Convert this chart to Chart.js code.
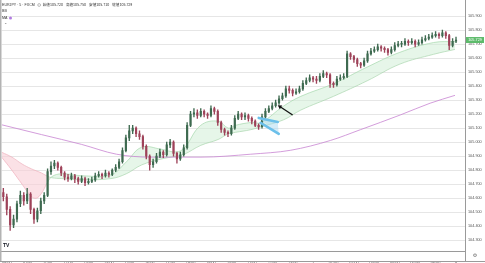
<!DOCTYPE html>
<html>
<head>
<meta charset="utf-8">
<script src="https://cdn.jsdelivr.net/npm/chart.js@4.4.1/dist/chart.umd.min.js"></script>
<style>
  html, body { margin: 0; padding: 0; background: #fff; }
  #wrap { width: 485px; height: 263px; }
</style>
</head>
<body>
<div id="wrap"><canvas id="myChart"></canvas></div>
<script>
const grafico = document.getElementById('myChart')

// time axis: hours after 09:00 of the first day
const hourLabels = ['09:00','10:00','11:00','12:00','13:00','14:00','15:00','16:00','17:00','18:00','19:00',
  '20:00','21:00','22:00','23:00','7','01:00','02:00','03:00','04:00','05:00','06:00','8'];
const priceTicks = [104.3,104.4,104.5,104.6,104.7,104.8,104.9,105.0,105.1,105.2,105.3,105.4,105.5,105.6,105.7,105.8,105.9];

// 10 minute candles, first one at 08:50
const opens = [104.64,104.61,104.52,104.41,104.45,104.56,104.62,104.58,104.63,104.52,
104.45,104.51,104.58,104.62,104.79,104.83,104.85,104.82,104.78,104.75,
104.74,104.76,104.74,104.72,104.74,104.71,104.72,104.73,104.76,104.77,
104.76,104.78,104.77,104.80,104.82,104.86,104.94,105.03,105.08,105.10,
105.06,105.04,104.97,104.90,104.84,104.86,104.90,104.93,104.91,104.98,
105.00,104.92,104.88,104.91,104.96,105.12,105.20,105.21,105.19,105.22,
105.20,105.19,105.24,105.22,105.14,105.09,105.07,105.06,105.10,105.17,
105.20,105.18,105.19,105.17,105.15,105.12,105.11,105.18,105.22,105.24,
105.26,105.28,105.31,105.33,105.38,105.37,105.35,105.36,105.38,105.42,
105.44,105.46,105.45,105.44,105.47,105.49,105.48,105.42,105.41,105.45,
105.46,105.47,105.63,105.61,105.59,105.56,105.55,105.58,105.63,105.65,
105.66,105.68,105.67,105.66,105.64,105.66,105.69,105.70,105.70,105.72,
105.71,105.72,105.70,105.71,105.73,105.74,105.75,105.76,105.77,105.76,
105.78,105.76,105.69,105.72];
const closes = [104.61,104.52,104.41,104.45,104.56,104.62,104.58,104.63,104.52,104.45,
104.51,104.58,104.62,104.79,104.83,104.85,104.82,104.78,104.75,104.74,
104.76,104.74,104.72,104.74,104.71,104.72,104.73,104.76,104.77,104.76,
104.78,104.77,104.80,104.82,104.86,104.94,105.03,105.08,105.10,105.06,
105.04,104.97,104.90,104.84,104.86,104.90,104.93,104.91,104.98,105.00,
104.92,104.88,104.91,104.96,105.12,105.20,105.21,105.19,105.22,105.20,
105.19,105.24,105.22,105.14,105.09,105.07,105.06,105.10,105.17,105.20,
105.18,105.19,105.17,105.15,105.12,105.11,105.18,105.22,105.24,105.26,
105.28,105.31,105.33,105.38,105.37,105.35,105.36,105.38,105.42,105.44,
105.46,105.45,105.44,105.47,105.49,105.48,105.42,105.41,105.45,105.46,
105.47,105.63,105.61,105.59,105.56,105.55,105.58,105.63,105.65,105.66,
105.68,105.67,105.66,105.64,105.66,105.69,105.70,105.70,105.72,105.71,
105.72,105.70,105.71,105.73,105.74,105.75,105.76,105.77,105.76,105.78,
105.76,105.69,105.72,105.729];
const highs = [104.67,104.63,104.54,104.48,104.58,104.65,104.64,104.67,104.64,104.53,
104.53,104.60,104.64,104.81,104.86,104.87,104.86,104.83,104.79,104.77,
104.78,104.77,104.75,104.76,104.75,104.74,104.75,104.78,104.79,104.78,
104.80,104.79,104.81,104.84,104.88,104.96,105.05,105.12,105.12,105.11,
105.08,105.05,104.98,104.91,104.88,104.92,104.95,104.94,105.00,105.02,
105.01,104.93,104.93,104.98,105.14,105.22,105.24,105.23,105.24,105.23,
105.21,105.26,105.25,105.23,105.15,105.10,105.08,105.12,105.19,105.22,
105.21,105.21,105.20,105.18,105.16,105.13,105.20,105.24,105.26,105.28,
105.30,105.33,105.35,105.40,105.40,105.38,105.38,105.40,105.44,105.46,
105.48,105.47,105.47,105.49,105.51,105.50,105.49,105.43,105.47,105.48,
105.49,105.65,105.64,105.62,105.60,105.57,105.60,105.65,105.67,105.68,
105.70,105.69,105.68,105.67,105.68,105.71,105.72,105.72,105.74,105.73,
105.74,105.73,105.73,105.75,105.76,105.77,105.78,105.79,105.78,105.80,
105.79,105.77,105.74,105.75];
const lows = [104.58,104.48,104.37,104.39,104.43,104.54,104.55,104.56,104.49,104.42,
104.43,104.49,104.56,104.61,104.77,104.81,104.80,104.76,104.73,104.72,
104.73,104.71,104.70,104.71,104.69,104.70,104.71,104.72,104.75,104.74,
104.75,104.75,104.76,104.79,104.81,104.85,104.93,105.01,105.06,105.04,
105.02,104.95,104.88,104.80,104.82,104.85,104.89,104.89,104.90,104.96,
104.90,104.85,104.87,104.90,104.95,105.11,105.18,105.17,105.18,105.18,
105.17,105.18,105.20,105.12,105.07,105.05,105.04,105.05,105.09,105.16,
105.16,105.16,105.15,105.13,105.11,105.09,105.10,105.17,105.21,105.23,
105.25,105.27,105.30,105.32,105.35,105.33,105.34,105.35,105.37,105.41,
105.43,105.43,105.42,105.43,105.46,105.46,105.39,105.39,105.40,105.44,
105.45,105.46,105.59,105.57,105.54,105.53,105.54,105.57,105.62,105.64,
105.65,105.65,105.64,105.62,105.63,105.65,105.68,105.68,105.69,105.69,
105.70,105.68,105.69,105.70,105.72,105.73,105.74,105.75,105.74,105.75,
105.74,105.66,105.68,105.71];

// moving average ribbon
const maHours = [-0.25,0.25,0.75,1.2,1.45,1.7,1.95,2.2,2.7,3.7,5.1,5.85,6.6,7.55,8.3,8.7,9.5,10.35,10.85,11.2,11.95,12.45,13.55,14.4,16.0,17.65,19.25,20.9,21.95];
const maFast = [104.893,104.80,104.70,104.613,104.60,104.634,104.70,104.753,104.774,104.76,104.767,104.858,104.963,104.95,104.93,104.96,105.12,105.15,105.10,105.12,105.14,105.14,105.257,105.327,105.417,105.536,105.641,105.711,105.718];
const maSlow = [104.928,104.893,104.844,104.81,104.795,104.78,104.76,104.746,104.74,104.732,104.74,104.774,104.837,104.879,104.90,104.914,104.977,105.019,105.06,105.07,105.089,105.11,105.159,105.229,105.327,105.438,105.557,105.627,105.662];

// long moving average (purple)
const longHours = [-0.25,1.7,3.66,5.37,7.07,9.51,11.95,13.9,15.85,17.32,19.27,20.73,21.95];
const longMa = [105.124,105.054,104.984,104.914,104.893,104.893,104.914,104.942,105.012,105.089,105.194,105.278,105.334];

// hand drawn arrows (hour, price)
const blackArrow = { from: [14.0, 105.194], to: [13.27, 105.264] };
const blueArrowTip = [12.34, 105.173];

const upColor = '#3e6a50';
const downColor = '#9e4259';
const greenLine = '#a6d8ae';
const pinkLine = '#f0b0bd';

let candleHours = [];
for (let i = 0; i < closes.length; i++) candleHours.push(-1 / 6 + i / 6);

const candleColor = ctx => closes[ctx.dataIndex] >= opens[ctx.dataIndex] ? upColor : downColor;

const tinyFont = { family: '"Liberation Sans", Arial, sans-serif', size: 3.8 };

const overlay = {
    id: 'overlay',
    afterDatasetsDraw(chart) {
        const ctx = chart.ctx;
        const xs = chart.scales.x, ys = chart.scales.y;
        ctx.save();
        // black arrow
        const x1 = xs.getPixelForValue(blackArrow.from[0]), y1 = ys.getPixelForValue(blackArrow.from[1]);
        const x2 = xs.getPixelForValue(blackArrow.to[0]), y2 = ys.getPixelForValue(blackArrow.to[1]);
        const a = Math.atan2(y2 - y1, x2 - x1);
        ctx.strokeStyle = '#111';
        ctx.fillStyle = '#111';
        ctx.lineWidth = 1.3;
        ctx.beginPath();
        ctx.moveTo(x1, y1);
        ctx.lineTo(x2 - 2 * Math.cos(a), y2 - 2 * Math.sin(a));
        ctx.stroke();
        ctx.beginPath();
        ctx.moveTo(x2, y2);
        ctx.lineTo(x2 - 4.5 * Math.cos(a - 0.5), y2 - 4.5 * Math.sin(a - 0.5));
        ctx.lineTo(x2 - 4.5 * Math.cos(a + 0.5), y2 - 4.5 * Math.sin(a + 0.5));
        ctx.closePath();
        ctx.fill();
        // blue arrow
        const bx = xs.getPixelForValue(blueArrowTip[0]), by = ys.getPixelForValue(blueArrowTip[1]);
        ctx.fillStyle = 'rgba(170,218,242,0.5)';
        ctx.beginPath();
        ctx.moveTo(bx, by);
        ctx.lineTo(bx + 19, by + 4);
        ctx.lineTo(bx + 20, by + 16);
        ctx.closePath();
        ctx.fill();
        ctx.strokeStyle = '#6cc0ea';
        ctx.lineWidth = 2.6;
        ctx.lineCap = 'round';
        ctx.beginPath();
        ctx.moveTo(bx, by);
        ctx.lineTo(bx + 19, by + 4);
        ctx.moveTo(bx + 2, by + 5);
        ctx.lineTo(bx + 20, by + 16);
        ctx.stroke();
        ctx.restore();
    },
    afterDraw(chart) {
        const ctx = chart.ctx;
        const area = chart.chartArea;
        const ys = chart.scales.y;
        ctx.save();
        // frame
        ctx.fillStyle = '#b3b3b3';
        ctx.fillRect(0, 0, 1.5, 262);
        ctx.fillStyle = '#9a9a9a';
        ctx.fillRect(area.right, 0, 1, 262);
        ctx.fillRect(0, 261, 485, 1);
        // header
        const last = closes.length - 1;
        ctx.fillStyle = '#333';
        ctx.textBaseline = 'middle';
        ctx.font = '3.6px "Liberation Sans", Arial, sans-serif';
        const title = 'EURJPY · 5 · FXCM';
        ctx.fillText(title, 2, 5);
        let hx = 2 + ctx.measureText(title).width + 3;
        ctx.strokeStyle = '#777';
        ctx.lineWidth = 0.5;
        ctx.beginPath();
        ctx.arc(hx + 1.4, 5, 1.4, 0, Math.PI * 2);
        ctx.stroke();
        hx += 5;
        ctx.font = '3.6px "Noto Sans CJK JP", "Liberation Sans", sans-serif';
        const ohlc = ['始値' + opens[last].toFixed(3), '高値' + highs[last].toFixed(3),
            '安値' + lows[last].toFixed(3), '終値' + closes[last].toFixed(3)];
        ohlc.forEach(t => {
            ctx.fillText(t, hx, 5);
            hx += ctx.measureText(t).width + 3;
        });
        ctx.font = '3.6px "Liberation Sans", Arial, sans-serif';
        ctx.fillText('BB', 2, 11);
        ctx.fillText('MA', 2, 18);
        ctx.fillStyle = '#b07be0';
        ctx.beginPath();
        ctx.arc(10.5, 18, 1.5, 0, Math.PI * 2);
        ctx.fill();
        ctx.fillStyle = '#555';
        ctx.fillText('⌄', 4, 23);
        // logo and settings
        ctx.fillStyle = '#131722';
        ctx.font = 'bold 5px "Liberation Sans", Arial, sans-serif';
        ctx.fillText('TV', 3, 246);
        ctx.fillStyle = '#666';
        ctx.font = '5px "DejaVu Sans", sans-serif';
        ctx.textAlign = 'center';
        ctx.fillText('⚙', 475, 256);
        // last price label
        const py = ys.getPixelForValue(closes[last]);
        ctx.fillStyle = '#5dbb6b';
        ctx.fillRect(area.right + 1, py - 3, 18, 6);
        ctx.fillStyle = '#fff';
        ctx.font = '3.8px "Liberation Sans", Arial, sans-serif';
        ctx.fillText(closes[last].toFixed(3), area.right + 10, py + 0.2);
        ctx.restore();
    }
};

new Chart(grafico, {
    type: 'bar',
    data: {
        datasets: [
            {
                type: 'line',
                data: maHours.map((h, i) => ({ x: h, y: maFast[i] })),
                borderWidth: 0.7,
                pointRadius: 0,
                tension: 0.4,
                segment: {
                    borderColor: c => maFast[c.p1DataIndex] >= maSlow[c.p1DataIndex] ? greenLine : pinkLine
                },
                fill: { target: 1, above: 'rgba(205,238,212,0.5)', below: 'rgba(248,205,214,0.6)' },
                order: 5
            },
            {
                type: 'line',
                data: maHours.map((h, i) => ({ x: h, y: maSlow[i] })),
                borderWidth: 0.7,
                pointRadius: 0,
                tension: 0.4,
                segment: {
                    borderColor: c => maFast[c.p1DataIndex] >= maSlow[c.p1DataIndex] ? greenLine : pinkLine
                },
                fill: false,
                order: 4
            },
            {
                type: 'line',
                data: longHours.map((h, i) => ({ x: h, y: longMa[i] })),
                borderColor: '#c884d2',
                borderWidth: 0.8,
                pointRadius: 0,
                cubicInterpolationMode: 'monotone',
                fill: false,
                order: 3
            },
            {
                data: candleHours.map((h, i) => ({ x: h, y: [lows[i], highs[i]] })),
                backgroundColor: candleColor,
                barThickness: 0.7,
                grouped: false,
                order: 2
            },
            {
                data: candleHours.map((h, i) => ({ x: h, y: [opens[i], closes[i]] })),
                backgroundColor: candleColor,
                barThickness: 1.5,
                minBarLength: 0.8,
                grouped: false,
                order: 1
            }
        ]
    },
    options: {
        responsive: true,
        maintainAspectRatio: false,
        animation: false,
        layout: { padding: 0 },
        plugins: { legend: { display: false }, tooltip: { enabled: false } },
        scales: {
            x: {
                type: 'linear',
                offset: false,
                min: -0.244,
                max: 22.44,
                afterBuildTicks: s => { s.ticks = hourLabels.map((_, i) => ({ value: i })) },
                afterFit: s => { s.height = 12 },
                grid: { display: false },
                border: { color: '#9a9a9a' },
                ticks: {
                    autoSkip: false,
                    maxRotation: 0,
                    padding: 2,
                    color: '#555',
                    font: tinyFont,
                    callback: (v, i) => hourLabels[i]
                }
            },
            y: {
                position: 'right',
                min: 104.223,
                max: 105.977,
                afterBuildTicks: s => { s.ticks = priceTicks.map(v => ({ value: v })) },
                afterFit: s => { s.width = 20 },
                grid: { color: '#e6e6e6', drawTicks: false },
                border: { display: false },
                ticks: {
                    padding: 3,
                    color: '#555',
                    font: tinyFont,
                    callback: v => v.toFixed(3)
                }
            }
        }
    },
    plugins: [overlay]
})
</script>
</body>
</html>
